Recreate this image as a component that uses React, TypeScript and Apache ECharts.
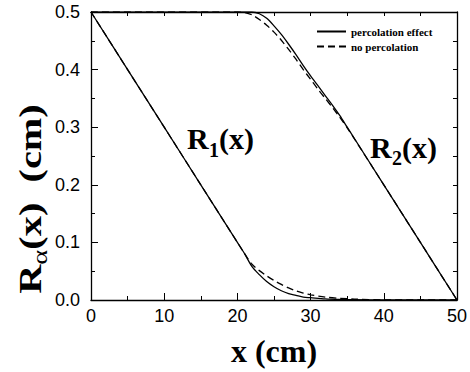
import React, { useEffect, useRef } from "react";
import * as echarts from "echarts";

const r1X = [0, 5, 10, 15, 20, 21, 22, 23, 24, 25, 26, 27, 28, 29, 30, 32, 34, 36, 40, 45, 50];
const r1Perc = [0.5, 0.4, 0.3, 0.2, 0.1, 0.08, 0.058, 0.044, 0.032, 0.023, 0.016, 0.011, 0.008, 0.005, 0.004, 0.002, 0.001, 0.0005, 0, 0, 0];
const r1NoPerc = [0.5, 0.4, 0.3, 0.2, 0.1, 0.08, 0.062, 0.051, 0.042, 0.034, 0.027, 0.021, 0.016, 0.012, 0.009, 0.005, 0.003, 0.0015, 0.0003, 0, 0];

const r2X = [0, 20, 21, 22, 23, 24, 25, 26, 27, 28, 29, 30, 31, 32, 33, 34, 35, 40, 45, 50];
const r2Perc = [0.5, 0.5, 0.5, 0.5, 0.497, 0.489, 0.476, 0.461, 0.444, 0.426, 0.407, 0.389, 0.372, 0.355, 0.338, 0.32, 0.3, 0.2, 0.1, 0];
const r2NoPerc = [0.5, 0.5, 0.499, 0.495, 0.487, 0.477, 0.465, 0.451, 0.435, 0.418, 0.4, 0.383, 0.366, 0.35, 0.334, 0.317, 0.299, 0.2, 0.1, 0];

const legendNames = ["percolation effect", "no percolation"];

const pair = (xs: number[], ys: number[]) => xs.map((x, i) => [x, ys[i]]);

const SERIF = "Liberation Serif";
const SANS = "Liberation Sans";

export default function App() {
  const ref = useRef<HTMLDivElement>(null);
  useEffect(() => {
    document.body.style.margin = "0";
    const chart = echarts.init(ref.current!, undefined, { renderer: "svg" });
    const axisLine = { show: true, onZero: false, lineStyle: { color: "#000", width: 1.3 } };
    const lineSeries = (name: string, data: number[][], dashed: boolean) => ({
      type: "line",
      name,
      data,
      symbol: "none",
      smooth: 0.3,
      lineStyle: { color: "#000", width: 1.3, type: dashed ? [7, 4] : "solid" },
      itemStyle: { color: "#000" },
      z: 3,
    });
    const bigText = (text: string, x: number, y: number, size: number) => ({
      type: "text",
      x,
      y,
      style: {
        text,
        fontSize: size,
        fontWeight: "bold",
        fontFamily: SERIF,
        fill: "#000",
        textAlign: "left",
        textVerticalAlign: "top",
      },
    });
    chart.setOption({
      animation: false,
      backgroundColor: "#fff",
      grid: { left: 91, right: 12, top: 12, bottom: 57, containLabel: false },
      legend: {
        data: legendNames,
        orient: "vertical",
        left: 311,
        top: 21,
        itemWidth: 29,
        itemHeight: 10,
        itemGap: 4,
        itemStyle: { opacity: 0, borderWidth: 0 },
        textStyle: { fontFamily: SERIF, fontWeight: "bold", fontSize: 11, color: "#000" },
      },
      xAxis: [
        {
          type: "value",
          min: 0,
          max: 50,
          interval: 10,
          position: "bottom",
          axisLine,
          axisTick: { inside: true, length: 7, lineStyle: { color: "#000" } },
          minorTick: { show: true, splitNumber: 2, length: 4, lineStyle: { color: "#000" } },
          splitLine: { show: false },
          axisLabel: { fontSize: 18, fontFamily: SANS, color: "#000", margin: 7 },
          name: "x (cm)",
          nameLocation: "middle",
          nameGap: 35,
          nameTextStyle: { fontFamily: SERIF, fontWeight: "bold", fontSize: 32, color: "#000" },
        },
        {
          type: "value",
          min: 0,
          max: 50,
          interval: 5,
          position: "top",
          axisLine,
          axisTick: { inside: true, length: 4, lineStyle: { color: "#000" } },
          axisLabel: { show: false },
          splitLine: { show: false },
        },
      ],
      yAxis: [
        {
          type: "value",
          min: 0,
          max: 0.5,
          interval: 0.1,
          position: "left",
          axisLine,
          axisTick: { inside: true, length: 7, lineStyle: { color: "#000" } },
          minorTick: { show: true, splitNumber: 2, length: 4, lineStyle: { color: "#000" } },
          splitLine: { show: false },
          axisLabel: {
            fontSize: 18,
            fontFamily: SANS,
            color: "#000",
            margin: 11,
            formatter: (v: number) => v.toFixed(1),
          },
        },
        {
          type: "value",
          min: 0,
          max: 0.5,
          interval: 0.05,
          position: "right",
          axisLine,
          axisTick: { inside: true, length: 4, lineStyle: { color: "#000" } },
          axisLabel: { show: false },
          splitLine: { show: false },
        },
      ],
      series: [
        lineSeries(legendNames[0], pair(r1X, r1Perc), false),
        lineSeries(legendNames[1], pair(r1X, r1NoPerc), true),
        lineSeries(legendNames[0], pair(r2X, r2Perc), false),
        lineSeries(legendNames[1], pair(r2X, r2NoPerc), true),
      ],
      graphic: [
        {
          type: "text",
          x: 31,
          y: 199,
          rotation: Math.PI / 2,
          scaleX: 1.3,
          style: {
            text: "{b|R}{s|α}{b|(x)  (cm)}",
            textAlign: "center",
            textVerticalAlign: "middle",
            fill: "#000",
            rich: {
              b: { fontSize: 31, fontWeight: "bold", fontFamily: SERIF, lineHeight: 40, fill: "#000" },
              s: { fontSize: 22, fontFamily: SERIF, lineHeight: 14, verticalAlign: "bottom", fill: "#000" },
            },
          },
        },
        bigText("R", 187, 123, 30),
        bigText("1", 209, 140, 20),
        bigText("(x)", 219, 123, 30),
        bigText("R", 370, 132, 30),
        bigText("2", 392, 148, 20),
        bigText("(x)", 402, 132, 30),
      ],
    });
    return () => chart.dispose();
  }, []);
  return <div ref={ref} style={{ width: 470, height: 372, position: "absolute", left: 0, top: 0 }} />;
}
